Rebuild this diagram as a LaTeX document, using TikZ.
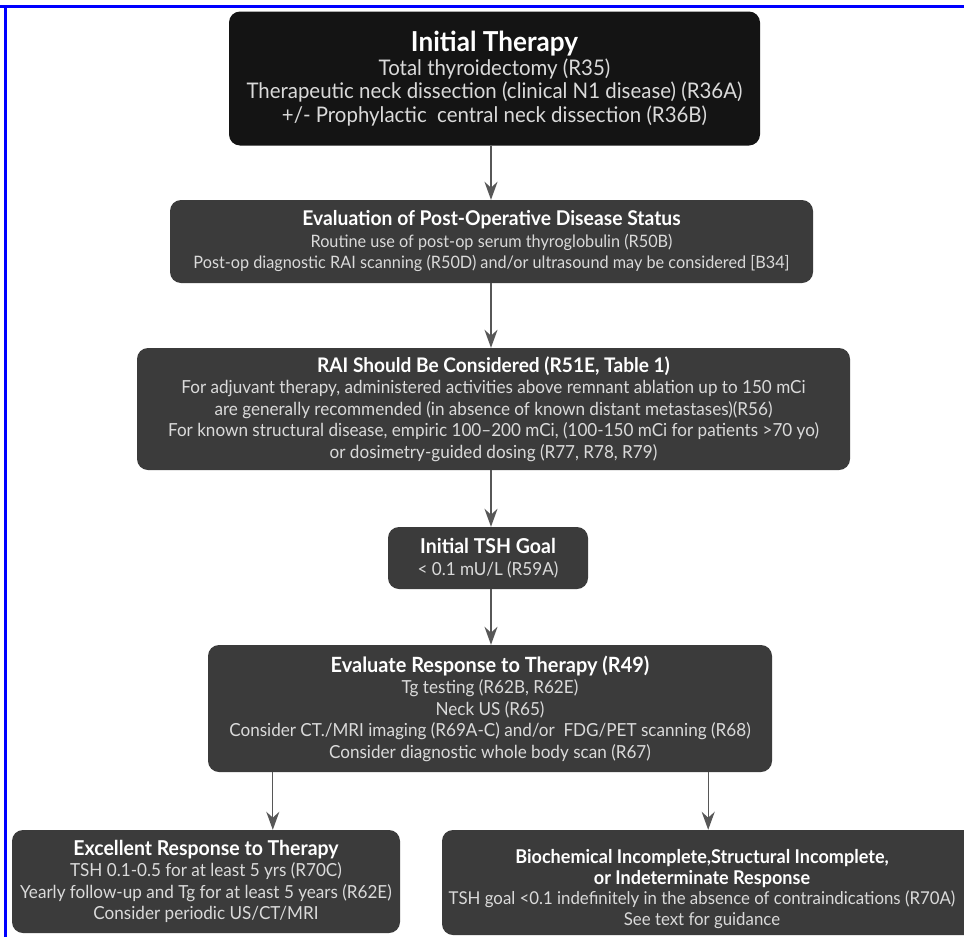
\documentclass[tikz,border=0pt]{standalone}
\usepackage{fontspec}
\setmainfont{Lato}[FakeStretch=0.95]
\usepackage{xcolor}
\usetikzlibrary{arrows.meta,calc}

\definecolor{boxgray}{HTML}{3B3B3B}
\definecolor{boxblack}{HTML}{141414}
\definecolor{bodytext}{HTML}{DADADA}
\definecolor{arrowgray}{HTML}{575757}
\definecolor{frameblue}{HTML}{0000FF}

\newcommand{\boxtitle}[2][20.3]{{\fontsize{#1}{21.5}\selectfont\bfseries\color{white}#2}}

\tikzset{
  stepbox/.style={fill=boxgray, rounded corners=11pt, text=bodytext, align=center,
    inner sep=0pt, font=\fontsize{18}{21.5}\selectfont},
  flow/.style={draw=arrowgray, line width=1.3pt, -{Stealth[length=18pt,width=13pt]}},
}

\begin{document}
\begin{tikzpicture}[x=1pt,y=-1pt]
\useasboundingbox (0,0) rectangle (964,937);
\clip (0,0) rectangle (964,937);
\fill[white] (0,0) rectangle (964,937);

% frame lines
\draw[frameblue, line width=3pt] (0,6) -- (964,6);
\draw[frameblue, line width=3pt] (5,6) -- (5,937);

% boxes
\node[stepbox, fill=boxblack, minimum width=531pt, minimum height=134pt,
  font=\fontsize{21.5}{23.5}\selectfont] (init) at (494.5,78.5)
  {{\fontsize{27.5}{28}\selectfont\bfseries\color{white}Initial Therapy}\\
   Total thyroidectomy (R35)\\
   Therapeutic neck dissection (clinical N1 disease) (R36A)\\
   +/- Prophylactic\ \ central neck dissection (R36B)};

\node[stepbox, minimum width=643pt, minimum height=83pt,
  font=\fontsize{17.1}{21.5}\selectfont] (postop) at (491.5,241.5)
  {\boxtitle{Evaluation of Post-Operative Disease Status}\\
   Routine use of post-op serum thyroglobulin (R50B)\\
   Post-op diagnostic RAI scanning (R50D) and/or ultrasound may be considered [B34]};

\node[stepbox, minimum width=713pt, minimum height=122pt] (rai) at (493.5,409)
  {\boxtitle[20.1]{RAI Should Be Considered (R51E, Table 1)}\\
   For adjuvant therapy, administered activities above remnant ablation up to 150 mCi\\
   are generally recommended (in absence of known distant metastases)(R56)\\
   For known structural disease, empiric 100--200 mCi, (100-150 mCi for patients >70 yo)\\
   or dosimetry-guided dosing (R77, R78, R79)};

\node[stepbox, minimum width=200pt, minimum height=62pt] (tsh) at (488,558)
  {\boxtitle[20.5]{Initial TSH Goal}\\
   < 0.1 mU/L (R59A)};

\node[stepbox, minimum width=564pt, minimum height=127pt] (resp) at (490,708.5)
  {\boxtitle[21]{Evaluate Response to Therapy (R49)}\\
   Tg testing (R62B, R62E)\\
   Neck US (R65)\\
   Consider CT./MRI imaging (R69A-C) and/or\ \ FDG/PET scanning (R68)\\
   Consider diagnostic whole body scan (R67)};

\node[stepbox, minimum width=388pt, minimum height=103pt] (excel) at (206,881.5)
  {\boxtitle[20.5]{Excellent Response to Therapy}\\
   TSH 0.1-0.5 for at least 5 yrs (R70C)\\
   Yearly follow-up and Tg for at least 5 years (R62E)\\
   Consider periodic US/CT/MRI};

\node[stepbox, minimum width=548pt, minimum height=105pt] (incompl) at (716,882.5) {};
\node[text=bodytext, align=center, inner sep=0pt, font=\fontsize{17.7}{20.5}\selectfont]
  (incompltext) at (702,889)
  {\boxtitle[19]{Biochemical Incomplete,Structural Incomplete,}\\
   \boxtitle[19]{or Indeterminate Response}\\
   TSH goal <0.1 indefinitely in the absence of contraindications (R70A)\\
   See text for guidance};

% arrows
\coordinate (leftout) at ($(resp.south west)+(65,0)$);
\coordinate (rightout) at ($(resp.south east)+(-64,0)$);
\draw[flow] (init.south -| 491,0) -- (postop.north -| 491,0);
\draw[flow] (postop.south -| 491,0) -- (rai.north -| 491,0);
\draw[flow] (rai.south -| 491,0) -- (tsh.north -| 491,0);
\draw[flow] (tsh.south -| 491,0) -- (resp.north -| 491,0);
\draw[flow] (leftout) -- (leftout |- excel.north);
\draw[flow] (rightout) -- (rightout |- incompl.north);
\end{tikzpicture}
\end{document}
